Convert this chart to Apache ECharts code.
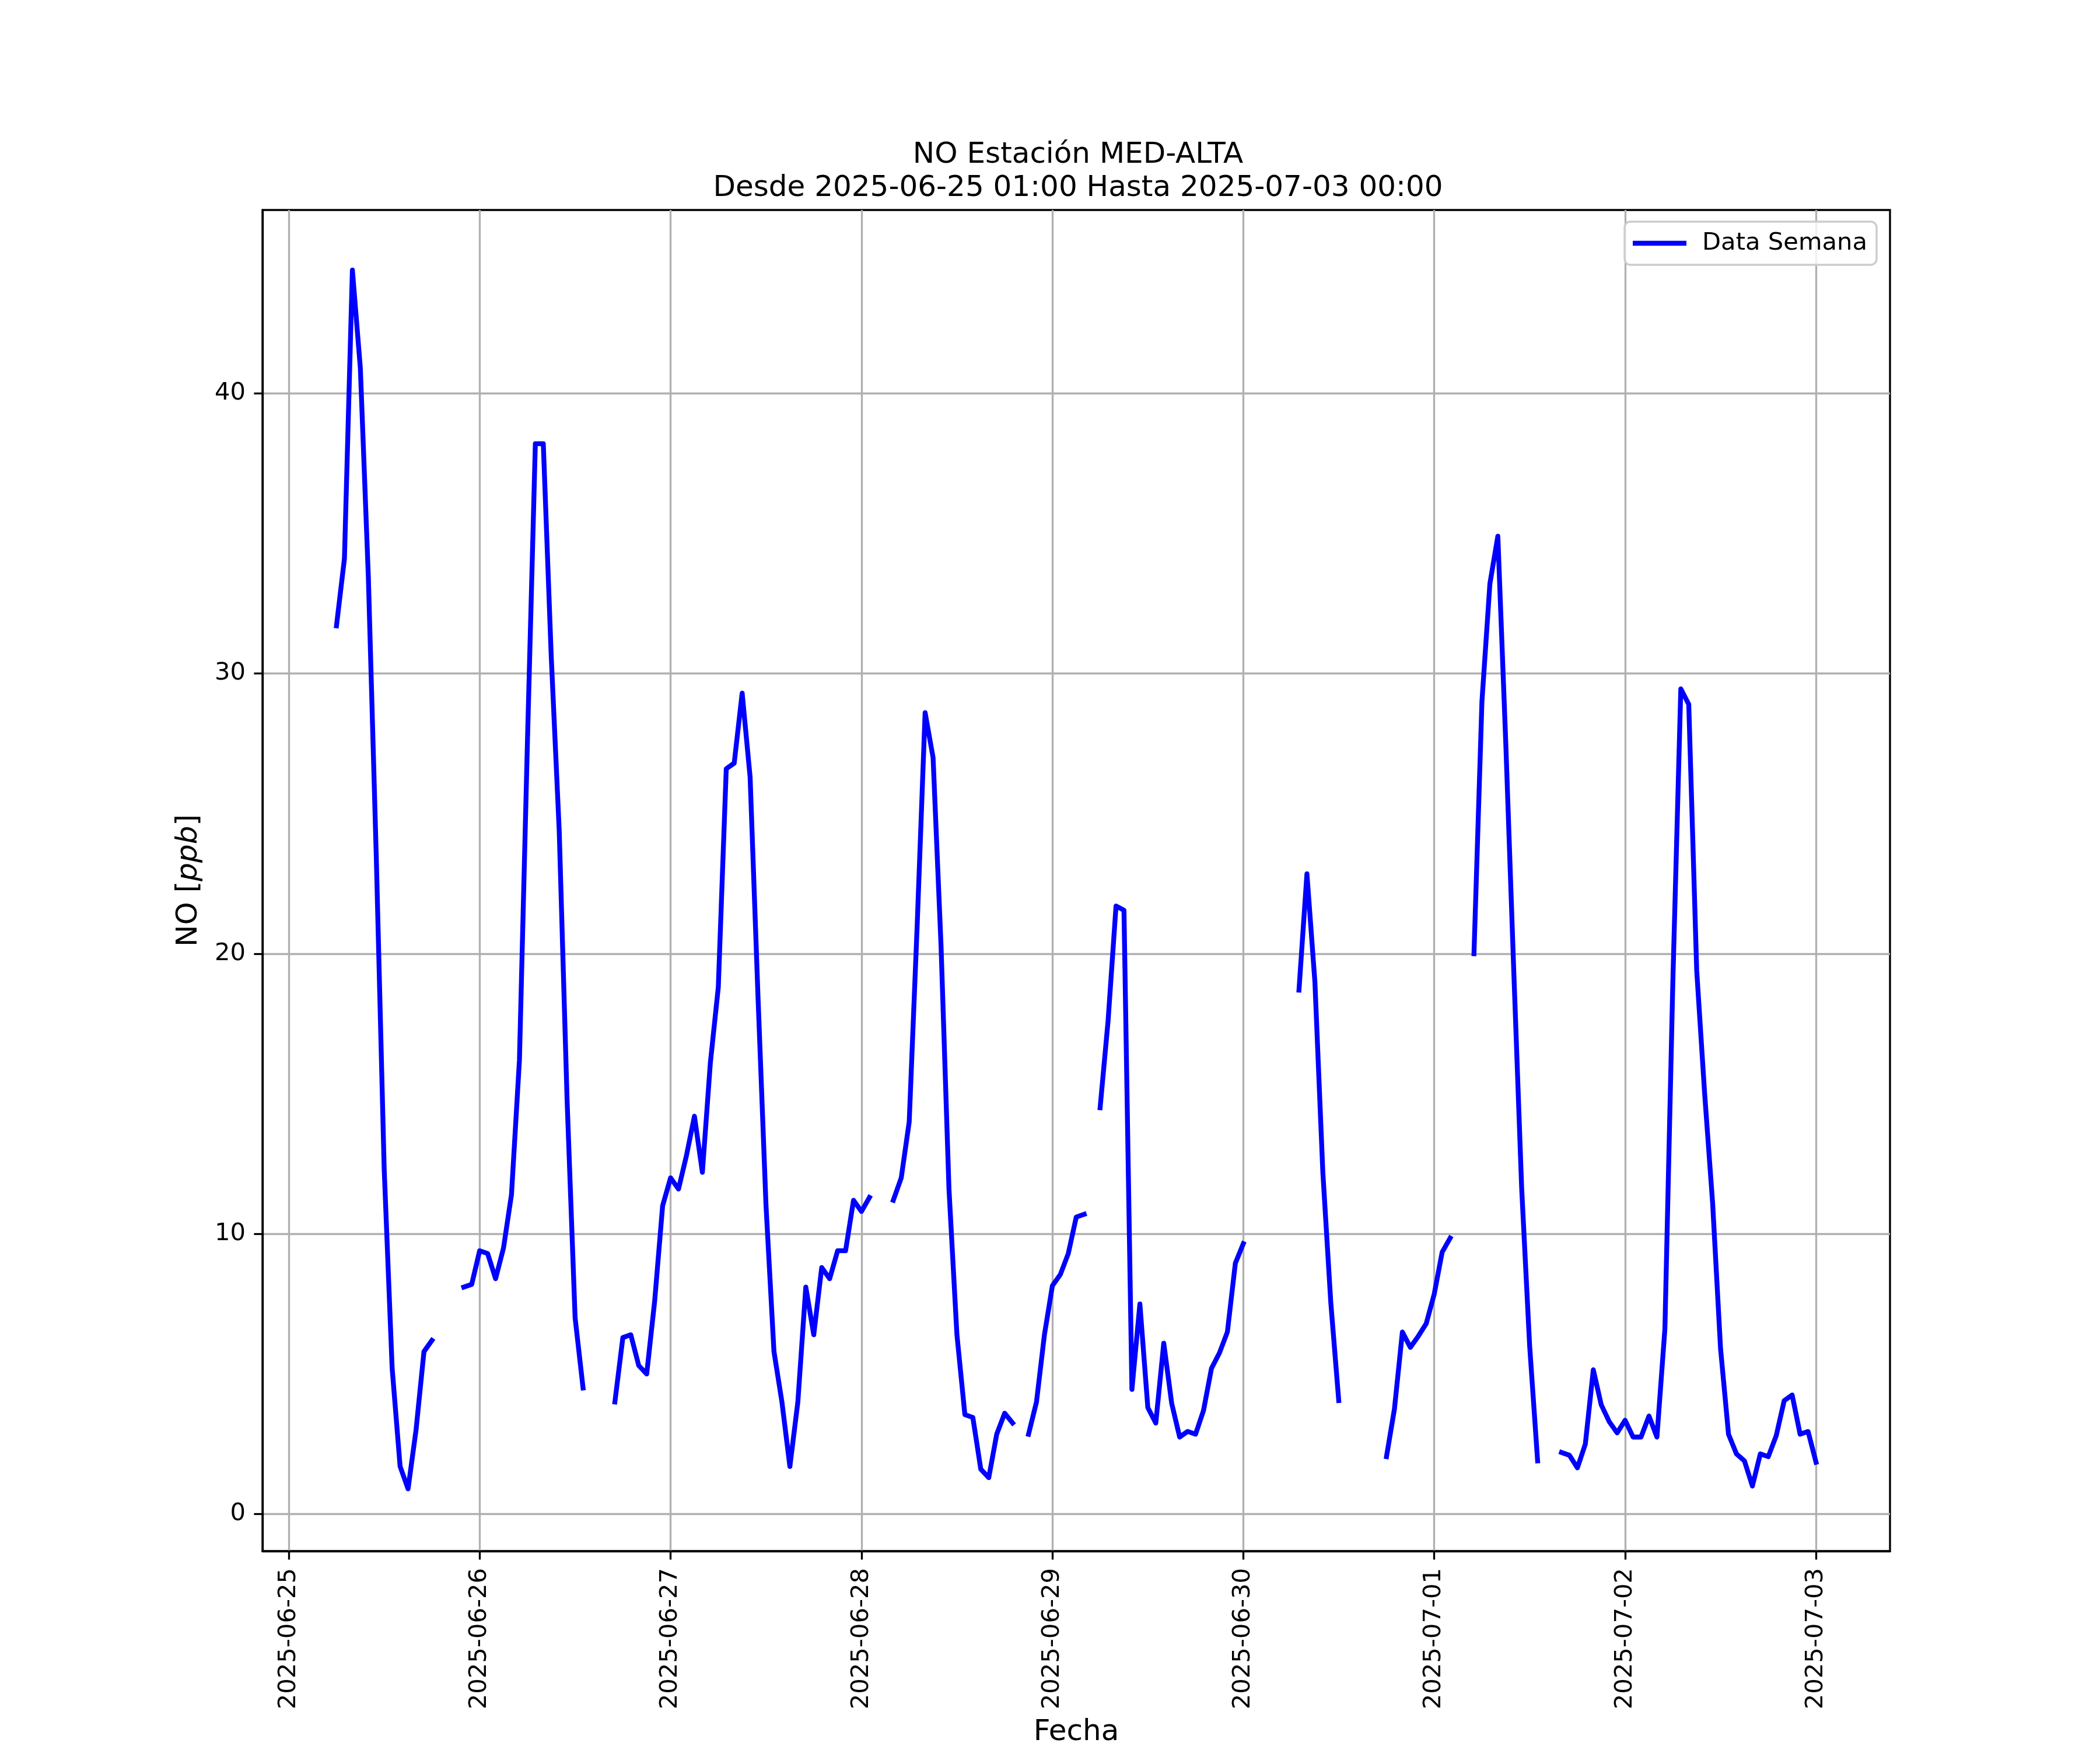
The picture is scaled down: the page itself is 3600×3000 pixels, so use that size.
<!DOCTYPE html>
<html>
<head>
<meta charset="utf-8">
<title>NO Estación MED-ALTA</title>
<script src="https://cdn.jsdelivr.net/npm/echarts@6.0.0/dist/echarts.min.js"></script>
<style>
  html, body { margin: 0; padding: 0; background: #ffffff; }
  #chart { width: 3600px; height: 3000px; }
</style>
</head>
<body>
<div id="chart"></div>
<script>
// ---- Data (hourly NO values, ppb; null = missing) ----
const dayDates = ['2025-06-25', '2025-06-26', '2025-06-27', '2025-06-28', '2025-06-29', '2025-06-30', '2025-07-01', '2025-07-02', '2025-07-03'];
const d0625 = [null, null, null, null, null, null, 31.7, 34.1, 44.4, 40.9, 33.5, 23.5, 12.3, 5.2, 1.7, 0.9, 3.0, 5.8, 6.2, null, null, null, 8.1, 8.2];
const d0626 = [9.4, 9.3, 8.4, 9.5, 11.4, 16.2, 27.5, 38.2, 38.2, 30.6, 24.4, 14.7, 7.0, 4.5, null, null, null, 4.0, 6.3, 6.4, 5.3, 5.0, 7.6, 11.0];
const d0627 = [12.0, 11.6, 12.8, 14.2, 12.2, 16.1, 18.8, 26.6, 26.8, 29.3, 26.3, 18.4, 11.0, 5.8, 4.0, 1.7, 4.0, 8.1, 6.4, 8.8, 8.4, 9.4, 9.4, 11.2];
const d0628 = [10.8, 11.3, null, null, 11.2, 12.0, 14.0, 21.0, 28.6, 27.0, 20.3, 11.6, 6.4, 3.55, 3.45, 1.6, 1.3, 2.85, 3.6, 3.25, null, 2.85, 4.0, 6.4];
const d0629 = [8.15, 8.55, 9.3, 10.6, 10.7, null, 14.5, 17.6, 21.7, 21.55, 4.45, 7.5, 3.8, 3.25, 6.1, 3.95, 2.75, 2.95, 2.85, 3.7, 5.2, 5.75, 6.5, 8.95];
const d0630 = [9.65, null, null, null, null, null, null, 18.7, 22.85, 19.0, 12.2, 7.55, 4.05, null, null, null, null, null, 2.05, 3.75, 6.5, 5.95, 6.35, 6.8];
const d0701 = [7.85, 9.35, 9.85, null, null, 20.0, 29.0, 33.2, 34.9, 27.5, 19.4, 11.6, 6.0, 1.9, null, null, 2.2, 2.1, 1.65, 2.5, 5.15, 3.9, 3.3, 2.9];
const d0702 = [3.35, 2.75, 2.75, 3.5, 2.75, 6.6, 19.0, 29.45, 28.9, 19.4, 15.0, 11.1, 5.9, 2.85, 2.15, 1.9, 1.0, 2.15, 2.05, 2.8, 4.05, 4.25, 2.85, 2.95];
const d0703 = [1.85];
const yTicks = [0, 10, 20, 30, 40];
const seriesName = 'Data Semana';
const titleText = 'NO Estación MED-ALTA\nDesde 2025-06-25 01:00 Hasta 2025-07-03 00:00';

// ---- Build series data ----
const HOUR = 3600 * 1000;
function dayStart(s) {
  const p = s.split('-').map(Number);
  return Date.UTC(p[0], p[1] - 1, p[2]);
}
const dayArrays = [d0625, d0626, d0627, d0628, d0629, d0630, d0701, d0702, d0703];
const seriesData = [];
dayArrays.forEach(function (arr, i) {
  const t0 = dayStart(dayDates[i]);
  arr.forEach(function (v, h) {
    seriesData.push([t0 + h * HOUR, v]);
  });
});
const tickTimes = dayDates.map(dayStart);

const FONT = 'DejaVu Sans';
const chart = echarts.init(document.getElementById('chart'));
chart.setOption({
  animation: false,
  backgroundColor: '#ffffff',
  title: {
    text: titleText,
    left: 1843,
    top: 233,
    textAlign: 'center',
    textStyle: {
      fontFamily: FONT,
      fontSize: 50,
      fontWeight: 'normal',
      color: '#000000',
      lineHeight: 57
    }
  },
  legend: {
    data: [{ name: seriesName, icon: 'rect' }],
    left: 2785,
    top: 380,
    itemWidth: 92,
    itemHeight: 8.33,
    padding: [16, 16, 16, 14],
    backgroundColor: 'rgba(255,255,255,0.8)',
    borderColor: '#cccccc',
    borderWidth: 3.3,
    borderRadius: 10,
    itemStyle: { color: '#0000ff', borderWidth: 0 },
    textStyle: {
      fontFamily: FONT,
      fontSize: 41.7,
      color: '#000000',
      padding: [0, 0, 0, 22]
    }
  },
  grid: {
    left: 450,
    top: 360,
    right: 360,
    bottom: 330,
    show: true,
    borderColor: '#000000',
    borderWidth: 3.33,
    backgroundColor: 'transparent',
    containLabel: false
  },
  xAxis: {
    type: 'value',
    min: tickTimes[0] - 3.3 * HOUR,
    max: tickTimes[tickTimes.length - 1] + 9.3 * HOUR,
    name: 'Fecha',
    nameLocation: 'middle',
    nameGap: 286,
    nameTextStyle: { fontFamily: FONT, fontSize: 50, color: '#000000' },
    axisLine: { show: true, onZero: false, lineStyle: { color: '#000000', width: 3.33 } },
    axisTick: {
      show: true,
      inside: false,
      length: 14.6,
      customValues: tickTimes,
      lineStyle: { color: '#000000', width: 3.33 }
    },
    axisLabel: {
      customValues: tickTimes,
      rotate: 90,
      margin: 29,
      fontFamily: FONT,
      fontSize: 41.7,
      color: '#000000',
      formatter: function (v) {
        const idx = tickTimes.indexOf(v);
        return idx >= 0 ? dayDates[idx] : '';
      }
    },
    splitLine: { show: true, lineStyle: { color: '#b0b0b0', width: 3.33 } }
  },
  yAxis: {
    type: 'value',
    min: -1.32,
    max: 46.54,
    name: '{a|NO [}{b|ppb}{a|]}',
    nameLocation: 'middle',
    nameGap: 101,
    nameTextStyle: {
      fontFamily: FONT,
      fontSize: 50,
      color: '#000000',
      rich: {
        a: { fontFamily: FONT, fontSize: 50, color: '#000000' },
        b: { fontFamily: FONT, fontSize: 50, color: '#000000', fontStyle: 'italic' }
      }
    },
    axisLine: { show: true, onZero: false, lineStyle: { color: '#000000', width: 3.33 } },
    axisTick: {
      show: true,
      inside: false,
      length: 14.6,
      customValues: yTicks,
      lineStyle: { color: '#000000', width: 3.33 }
    },
    axisLabel: {
      customValues: yTicks,
      margin: 29,
      fontFamily: FONT,
      fontSize: 41.7,
      color: '#000000'
    },
    splitLine: { show: true, lineStyle: { color: '#b0b0b0', width: 3.33 } }
  },
  series: [{
    name: seriesName,
    type: 'line',
    data: seriesData,
    showSymbol: false,
    symbol: 'none',
    connectNulls: false,
    lineStyle: { color: '#0000ff', width: 8.33, join: 'round', cap: 'square' },
    itemStyle: { color: '#0000ff' },
    z: 3
  }]
});
</script>
</body>
</html>
